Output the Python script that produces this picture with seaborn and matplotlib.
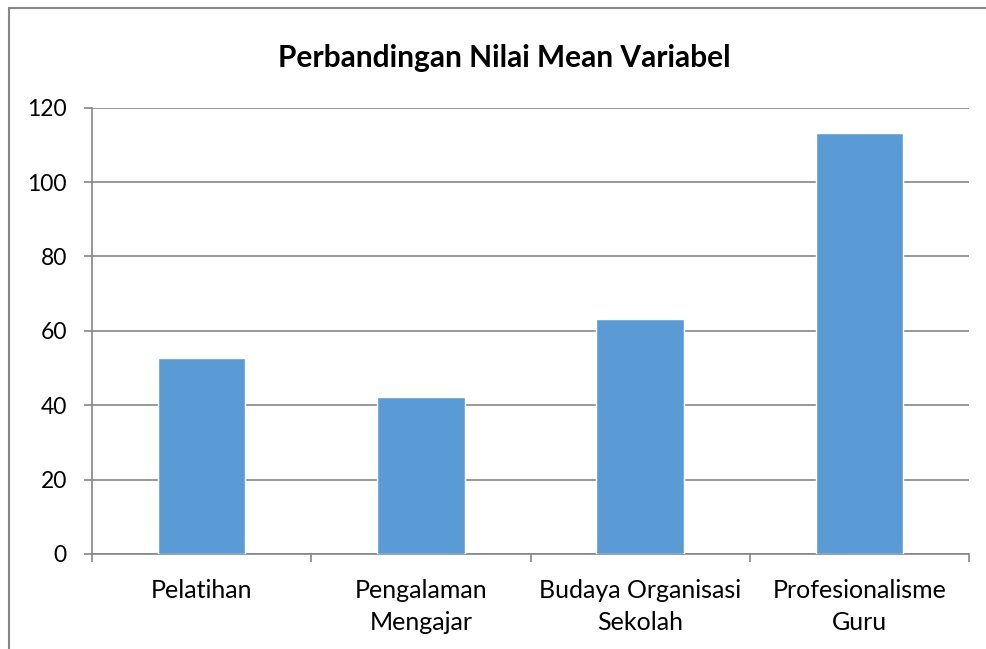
import numpy as np
import pandas as pd
import matplotlib.pyplot as plt
import seaborn as sns
from matplotlib.patches import Rectangle

categories = ['Pelatihan', 'Pengalaman\nMengajar', 'Budaya Organisasi\nSekolah', 'Profesionalisme\nGuru']
mean_values = [52.7, 42.2, 63.2, 113.2]
y_ticks = [0, 20, 40, 60, 80, 100, 120]

df = pd.DataFrame({'Variabel': categories, 'Mean': mean_values})

sns.set_style("white")
plt.rcParams['font.family'] = ['Lato', 'DejaVu Sans']
plt.rcParams['text.color'] = 'black'

fig = plt.figure(figsize=(9.86, 6.49), dpi=100)
ax = fig.add_axes([0.0933, 0.1464, 0.8895, 0.6876])

sns.barplot(x='Variabel', y='Mean', data=df, color='#5B9BD5', width=0.4,
            saturation=1, ax=ax, zorder=3)

ax.set_ylim(0, 120)
ax.set_xlim(-0.5, 3.5)
ax.set_yticks(y_ticks)
ax.yaxis.grid(True, color='#868686', linewidth=1.2, zorder=0)
ax.set_axisbelow(True)
ax.set_xlabel('')
ax.set_ylabel('')

for side in ['top', 'right']:
    ax.spines[side].set_visible(False)
for side in ['left', 'bottom']:
    ax.spines[side].set_color('#868686')
    ax.spines[side].set_linewidth(1.2)

ax.tick_params(axis='y', which='major', length=6, width=1.2, color='#868686',
               labelsize=16.5, pad=12, left=True, labelcolor='black')
ax.tick_params(axis='x', which='major', length=0, labelsize=18, pad=18, labelcolor='black')
ax.set_xticks(np.arange(-0.5, 4, 1), minor=True)
ax.tick_params(axis='x', which='minor', length=6, width=1.2, color='#868686', bottom=True)
for lbl in ax.get_xticklabels():
    lbl.set_linespacing(1.5)

fig.suptitle('Perbandingan Nilai Mean Variabel', x=0.511, y=0.932, fontsize=21.5,
             fontweight='bold', color='black')

# outer chart border (cropped on the right and bottom)
fig.patches.append(Rectangle((0.0095, -0.1), 1.1, 1.0877, transform=fig.transFigure,
                             fill=False, edgecolor='#868686', linewidth=1.5))

fig.savefig('out.png', dpi=100)
